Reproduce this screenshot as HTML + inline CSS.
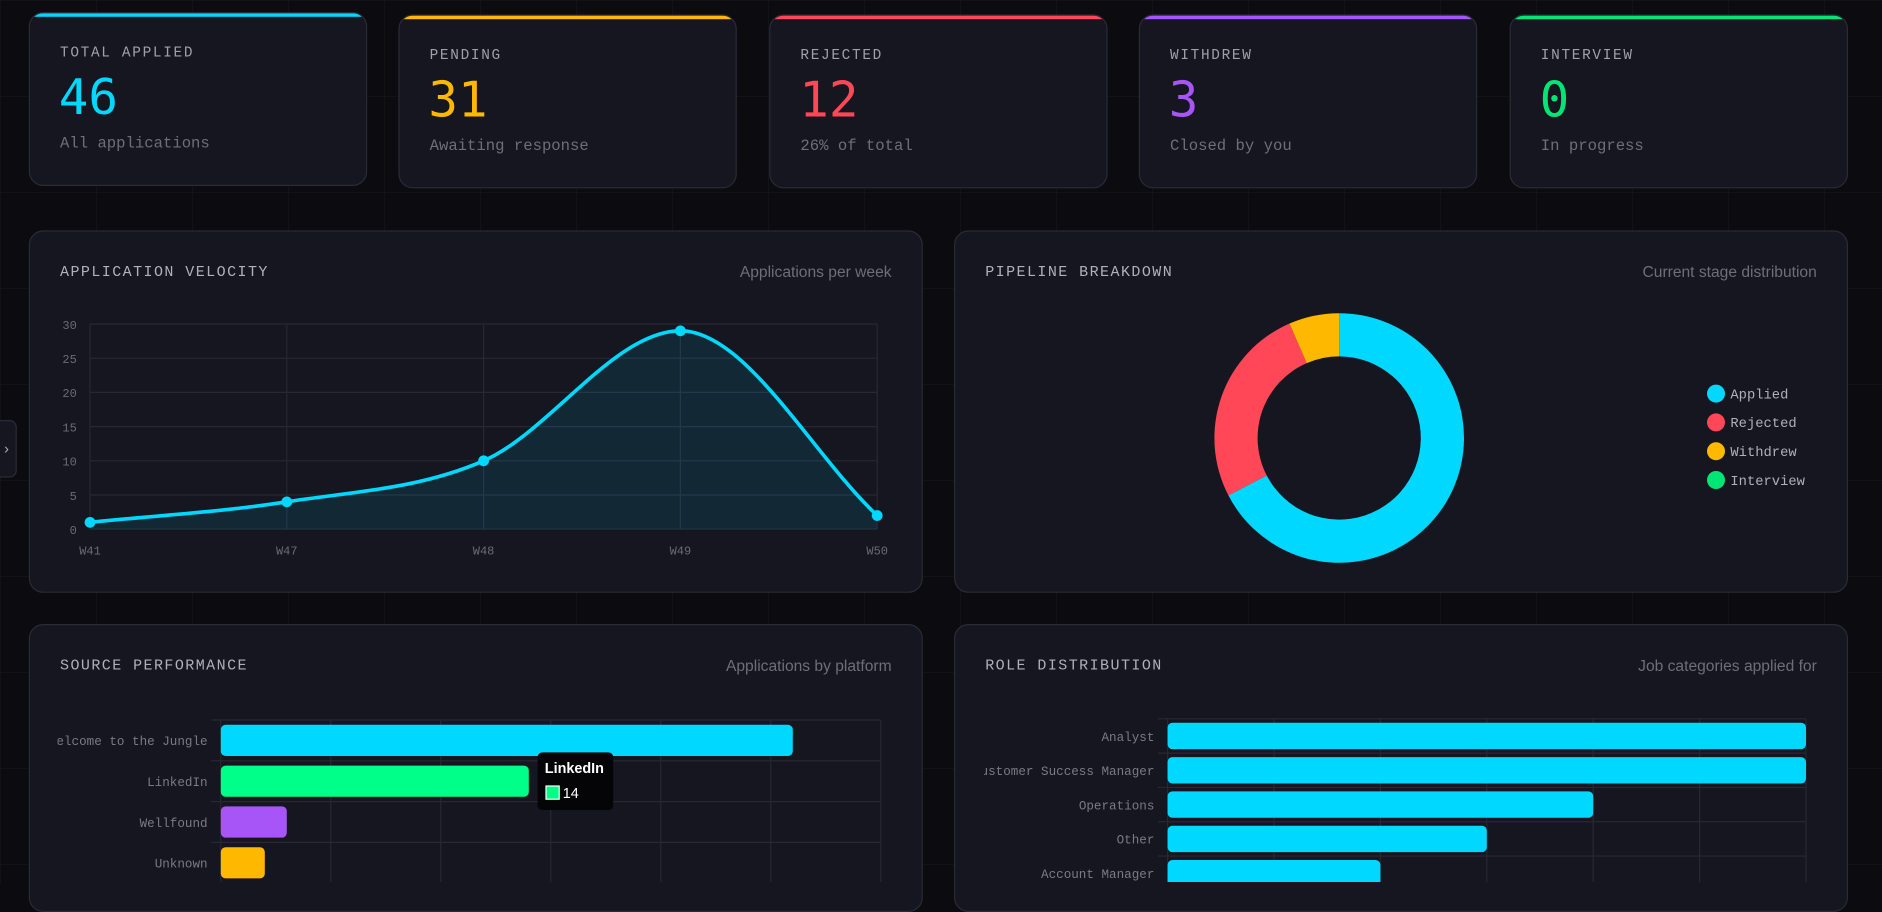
<!DOCTYPE html>
<html><head><meta charset="utf-8">
<style>
html,body{margin:0;padding:0;background:#0b0b10;overflow:hidden;width:1882px;height:883px}
#root{position:absolute;left:0;top:0;width:1568px;height:736px;transform:scale(1.2);transform-origin:0 0;
background-color:#0b0b10;background-image:linear-gradient(#12131a 1px,transparent 1px),linear-gradient(90deg,#12131a 1px,transparent 1px);background-size:80px 80px;
font-family:"Liberation Mono","DejaVu Sans Mono",monospace;}
.card{position:absolute;background:#15161f;border:1px solid #2a2b36;border-radius:12px;box-sizing:border-box;overflow:hidden}
.stat .bar{position:absolute;left:0;right:0;top:0;height:3px}
.stat .lbl{position:absolute;left:25px;top:26px;font-size:12px;letter-spacing:1.4px;color:#a0a0ad}
.stat .num{position:absolute;left:24px;top:46px;font-size:41px;font-family:"DejaVu Sans Mono",monospace;}
.stat .sub{position:absolute;left:25px;top:101px;font-size:13px;color:#6e6e7b}
.ptitle{position:absolute;left:25px;top:27px;font-size:12.5px;letter-spacing:1.2px;color:#b0b0bc}
.psub{position:absolute;right:25px;top:26px;font-size:13px;color:#6e6e7b;font-family:"Liberation Sans",sans-serif}
svg text{font-family:"Liberation Mono",monospace}
</style></head><body>
<div id="root">
<div style="position:absolute;left:-6px;top:350px;width:20px;height:48px;border:1px solid #2a2b36;border-radius:6px;background:#15161f;color:#aaa;font-size:12px;line-height:48px;text-align:right;padding-right:4px;box-sizing:border-box">›</div>

<div class="card stat" style="left:24px;top:10px;width:282px;height:145px"><div class="bar" style="background:#00d8ff"></div><div class="lbl">TOTAL APPLIED</div><div class="num" style="color:#00d8ff">46</div><div class="sub">All applications</div></div>
<div class="card stat" style="left:332px;top:12px;width:282px;height:145px"><div class="bar" style="background:#ffb800"></div><div class="lbl">PENDING</div><div class="num" style="color:#ffb800">31</div><div class="sub">Awaiting response</div></div>
<div class="card stat" style="left:641px;top:12px;width:282px;height:145px"><div class="bar" style="background:#ff4757"></div><div class="lbl">REJECTED</div><div class="num" style="color:#ff4757">12</div><div class="sub">26% of total</div></div>
<div class="card stat" style="left:949px;top:12px;width:282px;height:145px"><div class="bar" style="background:#a855f7"></div><div class="lbl">WITHDREW</div><div class="num" style="color:#a855f7">3</div><div class="sub">Closed by you</div></div>
<div class="card stat" style="left:1258px;top:12px;width:282px;height:145px"><div class="bar" style="background:#00e676"></div><div class="lbl">INTERVIEW</div><div class="num" style="color:#00e676">0</div><div class="sub">In progress</div></div>

<div class="card" style="left:24px;top:192px;width:745px;height:302px">
<div class="ptitle">APPLICATION VELOCITY</div><div class="psub">Applications per week</div></div>
<div class="card" style="left:795px;top:192px;width:745px;height:302px">
<div class="ptitle">PIPELINE BREAKDOWN</div><div class="psub">Current stage distribution</div></div>
<div class="card" style="left:24px;top:520px;width:745px;height:240px">
<div class="ptitle">SOURCE PERFORMANCE</div><div class="psub">Applications by platform</div></div>
<div class="card" style="left:795px;top:520px;width:745px;height:240px">
<div class="ptitle">ROLE DISTRIBUTION</div><div class="psub">Job categories applied for</div></div>

<svg id="charts" width="1568" height="736" style="position:absolute;left:0;top:0"></svg>
</div>
<script>
const weeks=["W41","W47","W48","W49","W50"];
const weekValues=[1,4,10,29,2];
const velTicks=[0,5,10,15,20,25,30];
const stageNames=["Applied","Rejected","Withdrew","Interview"];
const stageValues=[31,12,3,0];
const stageColors=["#00d8ff","#ff4757","#ffb800","#00e676"];
const sources=["Welcome to the Jungle","LinkedIn","Wellfound","Unknown"];
const sourceValues=[26,14,3,2];
const sourceColors=["#00d8ff","#00ff88","#a855f7","#ffb800"];
const roles=["Analyst","Customer Success Manager","Operations","Other","Account Manager"];
const roleValues=[12,12,8,6,4];

const svg=document.getElementById('charts');
const NS='http://www.w3.org/2000/svg';
function mk(t,a,p){const e=document.createElementNS(NS,t);for(const k in a)e.setAttribute(k,a[k]);(p||svg).appendChild(e);return e;}

// velocity
const vx0=75,vx1=731,vy0=441,vy1=270,vmax=30;
const vX=i=>vx0+i*(vx1-vx0)/(weeks.length-1);
const vY=v=>vy0-v/vmax*(vy0-vy1);
velTicks.forEach(t=>{
 const l=mk('line',{x1:vx0,x2:vx1,y1:vY(t),y2:vY(t),stroke:'#262834','stroke-width':1});
 
 
 const tx=mk('text',{x:64,y:vY(t)+4,'text-anchor':'end','font-size':10,fill:'#6b6b78'});tx.textContent=t;
 
 
});
weeks.forEach((w,i)=>{
 const l=mk('line',{x1:vX(i),x2:vX(i),y1:vy1,y2:vy0,stroke:'#262834','stroke-width':1});
 
 
 const tx=mk('text',{x:vX(i),y:462,'text-anchor':'middle','font-size':10,fill:'#6b6b78'});tx.textContent=w;
 
 
});
const pts=weekValues.map((v,i)=>[vX(i),vY(v)]);
function monotone(p){const n=p.length,d=[],m=[];for(let i=0;i<n-1;i++)d.push((p[i+1][1]-p[i][1])/(p[i+1][0]-p[i][0]));
 m[0]=d[0];m[n-1]=d[n-2];for(let i=1;i<n-1;i++)m[i]=(d[i-1]*d[i]<=0)?0:(d[i-1]+d[i])/2;
 let s='M'+p[0][0]+','+p[0][1];for(let i=0;i<n-1;i++){const h=(p[i+1][0]-p[i][0])/3;
 s+=` C${p[i][0]+h},${p[i][1]+m[i]*h} ${p[i+1][0]-h},${p[i+1][1]-m[i+1]*h} ${p[i+1][0]},${p[i+1][1]}`;}return s;}
const path=monotone(pts);
const area=mk('path',{d:path+` L${vx1},${vy0} L${vx0},${vy0} Z`,fill:'rgba(0,216,255,0.1)'});


const line=mk('path',{d:path,fill:'none',stroke:'#00d8ff','stroke-width':3});


pts.forEach(p=>{const c=mk('circle',{cx:p[0],cy:p[1],r:4.5,fill:'#00d8ff'});
 
 });

// donut
const cx=1116,cy=365,R=104,r=68;const tot=stageValues.reduce((a,b)=>a+b,0);let ang=0;
stageValues.forEach((v,i)=>{if(!v)return;const a0=ang,a1=ang+v/tot*2*Math.PI;ang=a1;
 const P=(rad,a)=>[cx+rad*Math.sin(a),cy-rad*Math.cos(a)];const lg=(a1-a0)>Math.PI?1:0;
 const [x0,y0]=P(R,a0),[x1,y1]=P(R,a1),[x2,y2]=P(r,a1),[x3,y3]=P(r,a0);
 const s=mk('path',{d:`M${x0},${y0} A${R},${R} 0 ${lg} 1 ${x1},${y1} L${x2},${y2} A${r},${r} 0 ${lg} 0 ${x3},${y3} Z`,fill:stageColors[i]});
 
 });
stageNames.forEach((n,i)=>{const y=328+i*24;
 const c=mk('circle',{cx:1430,cy:y,r:7.5,fill:stageColors[i]});
 
 
 const t=mk('text',{x:1442,y:y+4,'font-size':11.5,fill:'#b0b0bc'});t.textContent=n;
 
 });

// horizontal bars
function hbar(cats,vals,colors,x0,x1,y0,band,barH,max,nv,prefix,clipX){
 const sx=v=>x0+v/max*(x1-x0);
 const clip=mk('clipPath',{id:prefix+'clip'});mk('rect',{x:clipX,y:560,width:740,height:175},clip);
 const g=mk('g',{'clip-path':'url(#'+prefix+'clip)'});
 for(let k=0;k<=nv;k++){const x=sx(k*max/nv);const l=mk('line',{x1:x,x2:x,y1:y0,y2:760,stroke:'#262834'},g);
  
  }
 for(let k=0;k<=cats.length;k++){const l=mk('line',{x1:x0-8,x2:x1,y1:y0+k*band,y2:y0+k*band,stroke:'#262834'},g);
  
  }
 cats.forEach((c,i)=>{const yc=y0+band*(i+0.5);
  const b=mk('rect',{x:x0,y:yc-barH/2,width:sx(vals[i])-x0,height:barH,rx:4,fill:colors[i%colors.length]},g);
  
  
  const t=mk('text',{x:x0-11,y:yc+4,'text-anchor':'end','font-size':10.5,fill:'#7a7a88'},g);t.textContent=c;
  
  });
 return sx;}
hbar(sources,sourceValues,sourceColors,184,734,600,34,26,30,6,'source',48);
hbar(roles,roleValues,["#00d8ff"],973,1505,599,28.6,22,12,6,'role',820);
// tooltip
const tg=mk('g',{});
mk('rect',{x:448,y:627,width:63,height:48,rx:4,fill:'#050507'},tg);
const tt=mk('text',{x:454,y:644,'font-size':12,'font-weight':'bold',fill:'#fff'},tg);tt.textContent=sources[1];
tt.style.fontFamily='"Liberation Sans",sans-serif';
mk('rect',{x:455,y:655,width:11,height:11,fill:sourceColors[1],stroke:'#fff','stroke-width':1},tg);
const tv=mk('text',{x:469,y:665,'font-size':12,fill:'#fff'},tg);tv.textContent=sourceValues[1];
tv.style.fontFamily='"Liberation Sans",sans-serif';
</script>
</body></html>
